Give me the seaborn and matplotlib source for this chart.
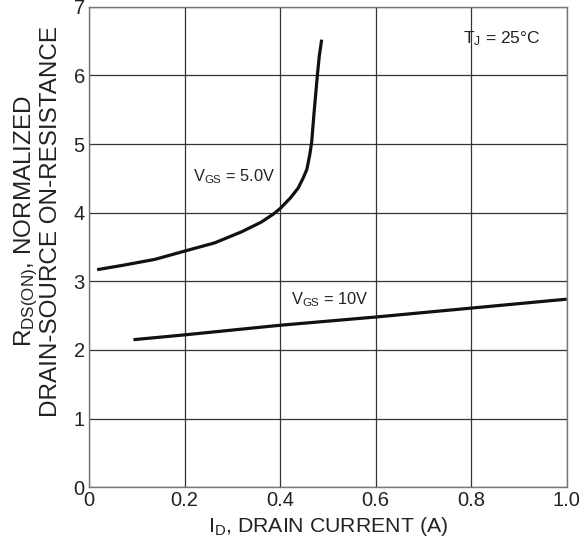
import numpy as np
import pandas as pd
import matplotlib
matplotlib.use("Agg")
import matplotlib.pyplot as plt
import seaborn as sns

# Data
id_5v = [0.017, 0.068, 0.138, 0.200, 0.263, 0.319, 0.360, 0.386, 0.400, 0.421,
         0.438, 0.448, 0.456, 0.462, 0.466, 0.471, 0.478, 0.482, 0.487]
r_5v = [3.17, 3.23, 3.32, 3.44, 3.56, 3.72, 3.86, 3.98, 4.06, 4.21,
        4.36, 4.50, 4.63, 4.84, 5.02, 5.45, 6.00, 6.28, 6.52]
id_10v = [0.093, 0.2, 0.4, 0.6, 0.8, 1.0]
r_10v = [2.15, 2.22, 2.36, 2.48, 2.61, 2.74]
x_ticks = [0, 0.2, 0.4, 0.6, 0.8, 1.0]
x_ticklabels = ["0", "0.2", "0.4", "0.6", "0.8", "1.0"]
y_ticks = [0, 1, 2, 3, 4, 5, 6, 7]

sns.set_theme(style="white")
plt.rcParams['font.family'] = ['Liberation Sans', 'DejaVu Sans']
plt.rcParams['mathtext.fontset'] = 'custom'
plt.rcParams['mathtext.rm'] = 'Liberation Sans'
plt.rcParams['mathtext.default'] = 'regular'

df = pd.concat([
    pd.DataFrame({"ID": id_5v, "R": r_5v, "VGS": "5.0V"}),
    pd.DataFrame({"ID": id_10v, "R": r_10v, "VGS": "10V"}),
])

fig = plt.figure(figsize=(5.88, 5.45), dpi=100)
ax = fig.add_axes([0.1514, 0.1059, 0.8124, 0.8818])

sns.lineplot(data=df, x="ID", y="R", units="VGS", estimator=None, sort=False,
             color="#111111", linewidth=2.3, ax=ax, legend=False)
for ln in ax.lines:
    ln.set_solid_capstyle("butt")
    ln.set_solid_joinstyle("round")

ax.set_xlim(0, 1.0)
ax.set_ylim(0, 7)
ax.set_xticks(x_ticks)
ax.set_xticklabels(x_ticklabels)
ax.set_yticks(y_ticks)
ax.grid(True, color="#333333", linewidth=0.9)
for s in ax.spines.values():
    s.set_color("#777777")
    s.set_linewidth(1.0)
ax.tick_params(axis="both", length=0, labelsize=14.5, colors="#222222", pad=3)

ax.set_xlabel("I$_{D}$, DRAIN CURRENT (A)", fontsize=15.3, color="#222222", labelpad=3)
ax.set_ylabel("R$_{DS(ON)}$, NORMALIZED\nDRAIN-SOURCE ON-RESISTANCE", fontsize=17.5,
              color="#222222", linespacing=1.0)
ax.yaxis.set_label_coords(-0.056, 0.554)

ax.text(0.218, 4.53, "V$_{GS}$ = 5.0V", fontsize=11.8, va="center", ha="left", color="#222222")
ax.text(0.423, 2.73, "V$_{GS}$ = 10V", fontsize=11.8, va="center", ha="left", color="#222222")
ax.text(0.782, 6.54, "T$_{J}$ = 25°C", fontsize=12.5, va="center", ha="left", color="#222222")

fig.savefig("out.png", dpi=100)
